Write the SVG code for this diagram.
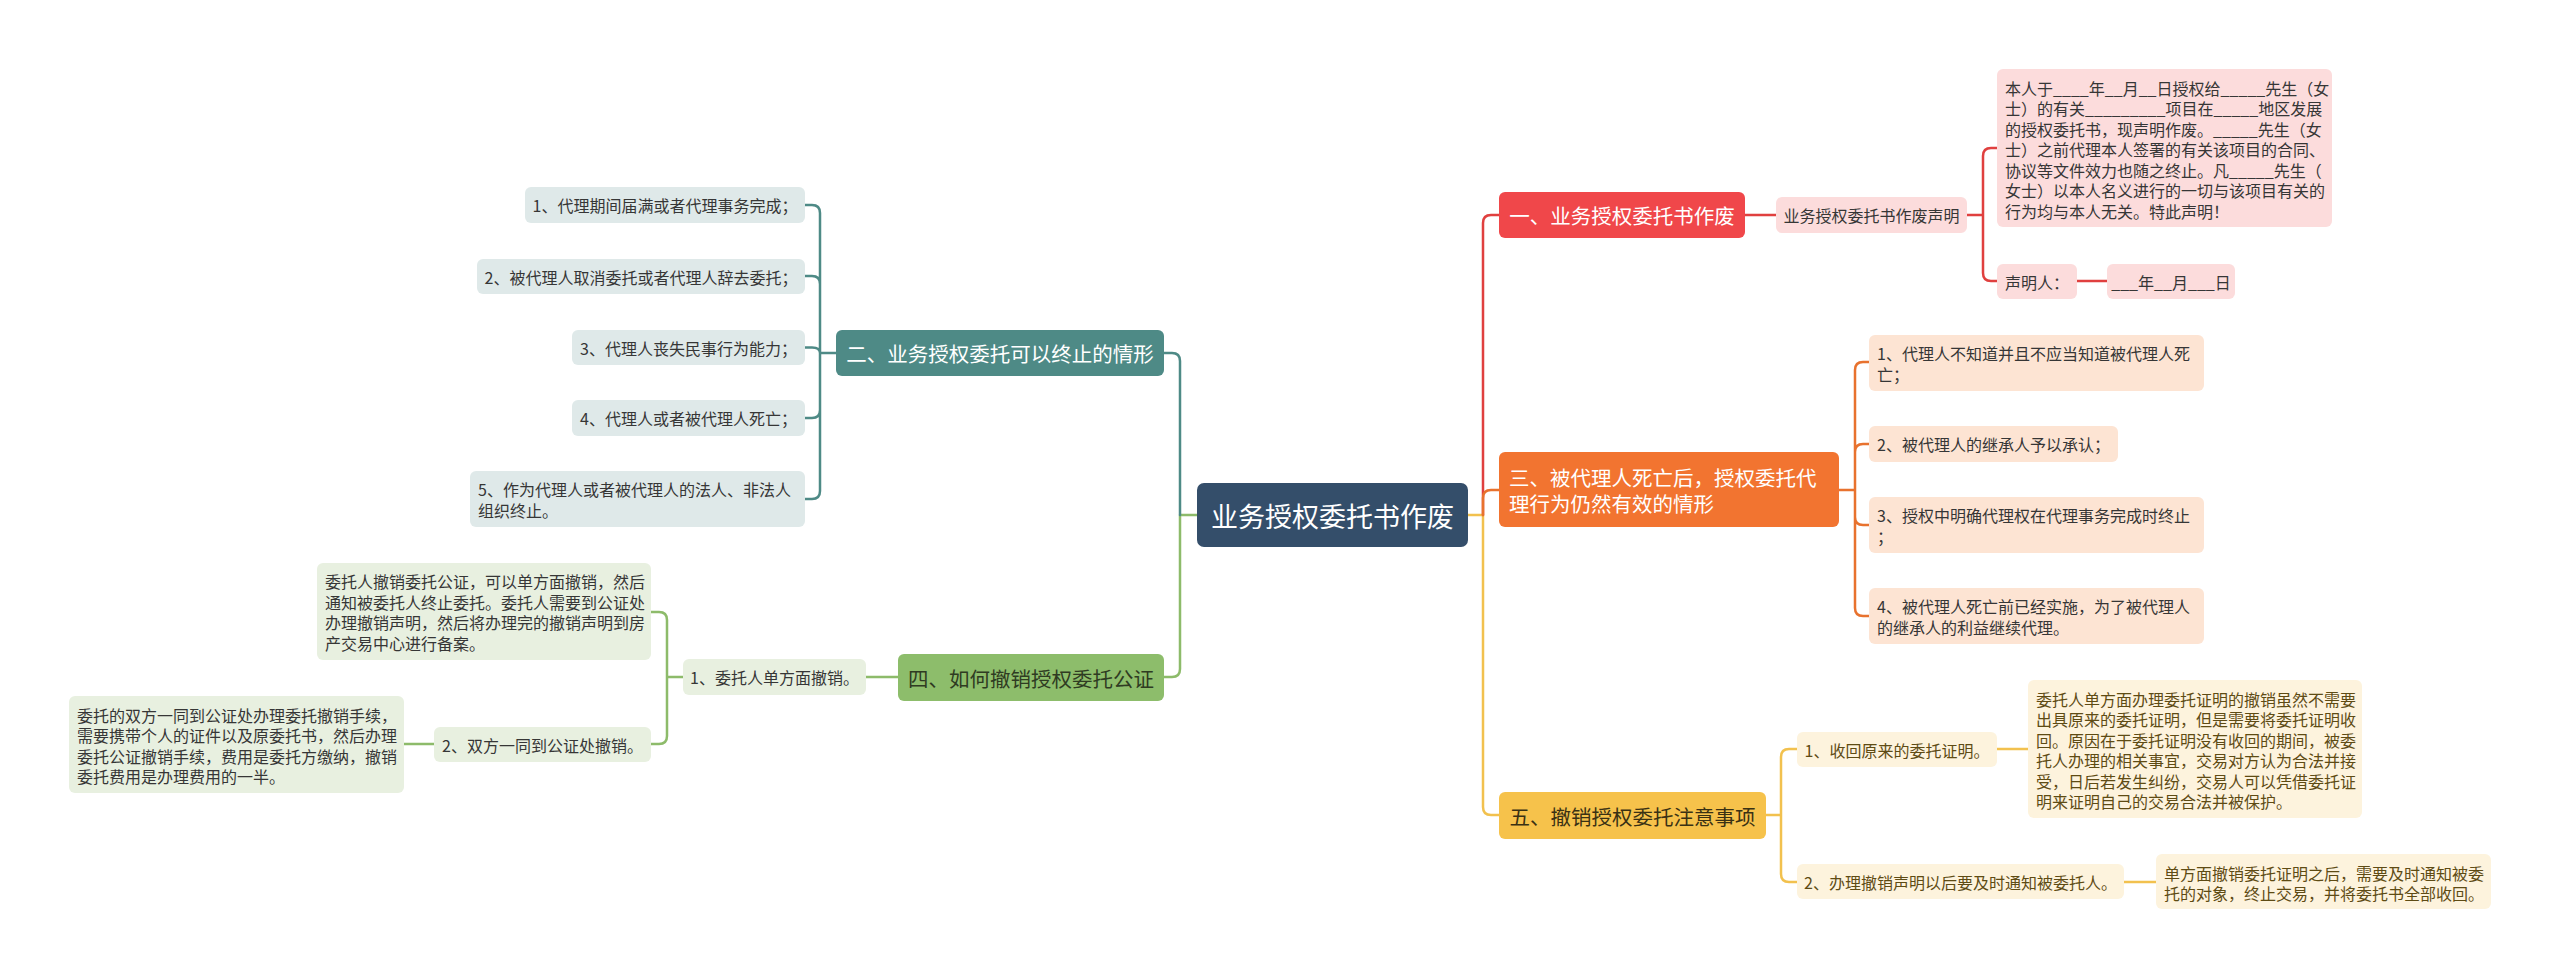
<svg xmlns="http://www.w3.org/2000/svg" width="2560" height="979" viewBox="0 0 2560 979">
<style>
text{font-family:"Noto Sans CJK SC","Noto Sans",sans-serif;}
.c{text-anchor:middle;dominant-baseline:central;}
.l{text-anchor:start;dominant-baseline:central;}
.f16{font-size:16px;fill:#363636;}
.fb{font-size:20.5px;}
.conn path{fill:none;stroke-linecap:round;stroke-linejoin:round;}
.teal{stroke:#4e8a86;stroke-width:2.5;}
.green{stroke:#8dbb6a;stroke-width:2.5;}
.red{stroke:#e0403f;stroke-width:2.5;}
.orange{stroke:#e8722e;stroke-width:2.5;}
.yellow{stroke:#f2c14e;stroke-width:2.5;}
.ty{fill:#5e4b14;}
</style>
<rect width="2560" height="979" fill="#ffffff"/>
<g id="connectors" class="conn">
  <path class="green" d="M1197,515 H1180 V669 Q1180,677 1172,677 H1164"/>
  <path class="teal" d="M1180,515 V361 Q1180,353 1172,353 H1164"/>
  <path class="teal" d="M836,353 H820 M820,353 V213 Q820,205 812,205 H805 M820,353 V284 Q820,276 812,276 H805 M820,353 Q820,347.5 812,347.5 H805 M820,353 V410 Q820,418 812,418 H805 M820,353 V491 Q820,499 812,499 H805"/>
  <path class="green" d="M898,677 H866 M683,677 H667 M667,677 V620 Q667,612 659,612 H651 M667,677 V736 Q667,744 659,744 H651 M434,744 H404"/>
  <path class="yellow" d="M1468,515 H1483 V807 Q1483,815 1491,815 H1499"/>
  <path class="red" d="M1483,515 V223 Q1483,215 1491,215 H1499"/>
  <path class="orange" d="M1483,515 V498 Q1483,490 1491,490 H1499"/>
  <path class="red" d="M1745,215 H1776 M1967,215 H1983 M1983,215 V156 Q1983,148 1991,148 H1997 M1983,215 V273 Q1983,281 1991,281 H1997 M2077,281 H2107"/>
  <path class="orange" d="M1839,490 H1855 M1855,490 V370 Q1855,362 1863,362 H1869 M1855,490 V452 Q1855,444 1863,444 H1869 M1855,490 V517 Q1855,525 1863,525 H1869 M1855,490 V608 Q1855,616 1863,616 H1869"/>
  <path class="yellow" d="M1766,815 H1781 M1781,815 V757 Q1781,749 1789,749 H1797 M1781,815 V874 Q1781,882 1789,882 H1797 M1997,749 H2028 M2124,882 H2156"/>
</g>
<g id="center">
  <rect x="1197" y="483" width="271" height="64" rx="7" fill="#344e6a"/>
  <text class="c" x="1332.5" y="515" font-size="27" fill="#ffffff">业务授权委托书作废</text>
</g>
<g id="b2">
  <rect x="836" y="330" width="328" height="46" rx="6" fill="#4e8a86"/>
  <text class="c fb" x="1000" y="353" fill="#ffffff">二、业务授权委托可以终止的情形</text>
</g>
<g id="b2-1"><rect x="525" y="187" width="280" height="36" rx="6" fill="#dfe9e9"/><text class="c f16" x="665" y="205">1、代理期间届满或者代理事务完成；</text></g>
<g id="b2-2"><rect x="477" y="259" width="328" height="35" rx="6" fill="#dfe9e9"/><text class="c f16" x="641" y="276.5">2、被代理人取消委托或者代理人辞去委托；</text></g>
<g id="b2-3"><rect x="572" y="330" width="233" height="35" rx="6" fill="#dfe9e9"/><text class="c f16" x="688.5" y="347.5">3、代理人丧失民事行为能力；</text></g>
<g id="b2-4"><rect x="572" y="400" width="233" height="36" rx="6" fill="#dfe9e9"/><text class="c f16" x="688.5" y="418">4、代理人或者被代理人死亡；</text></g>
<g id="b2-5"><rect x="470" y="471" width="335" height="56" rx="6" fill="#dfe9e9"/>
  <text class="l f16" x="478" y="489">5、作为代理人或者被代理人的法人、非法人</text>
  <text class="l f16" x="478" y="509.5">组织终止。</text></g>
<g id="b4">
  <rect x="898" y="654" width="266" height="47" rx="6" fill="#8dbd6b"/>
  <text class="c fb" x="1031" y="677.5" fill="#2f3b22">四、如何撤销授权委托公证</text>
</g>
<g id="b4-1"><rect x="683" y="659" width="183" height="36" rx="6" fill="#e8f0e0"/><text class="c f16" x="774.5" y="677">1、委托人单方面撤销。</text></g>
<g id="b4-1-1"><rect x="317" y="563" width="334" height="97" rx="6" fill="#e8f0e0"/>
  <text class="l f16" x="325" y="581">委托人撤销委托公证，可以单方面撤销，然后</text>
  <text class="l f16" x="325" y="601.5">通知被委托人终止委托。委托人需要到公证处</text>
  <text class="l f16" x="325" y="622">办理撤销声明，然后将办理完的撤销声明到房</text>
  <text class="l f16" x="325" y="642.5">产交易中心进行备案。</text></g>
<g id="b4-2"><rect x="434" y="727" width="217" height="35" rx="6" fill="#e8f0e0"/><text class="c f16" x="542.5" y="744.5">2、双方一同到公证处撤销。</text></g>
<g id="b4-2-1"><rect x="69" y="696" width="335" height="97" rx="6" fill="#e8f0e0"/>
  <text class="l f16" x="77" y="714.5">委托的双方一同到公证处办理委托撤销手续，</text>
  <text class="l f16" x="77" y="735">需要携带个人的证件以及原委托书，然后办理</text>
  <text class="l f16" x="77" y="755.5">委托公证撤销手续，费用是委托方缴纳，撤销</text>
  <text class="l f16" x="77" y="776">委托费用是办理费用的一半。</text></g>
<g id="b1">
  <rect x="1499" y="192" width="246" height="46" rx="6" fill="#f0474a"/>
  <text class="c fb" x="1622" y="215" fill="#ffffff">一、业务授权委托书作废</text>
</g>
<g id="b1-1"><rect x="1776" y="197" width="191" height="36" rx="6" fill="#fcdcdc"/><text class="c f16" x="1871.5" y="215">业务授权委托书作废声明</text></g>
<g id="b1-1-1"><rect x="1997" y="69" width="335" height="158" rx="6" fill="#fcdcdc"/>
  <text class="l f16" x="2005" y="87.5">本人于____年__月__日授权给_____先生（女</text>
  <text class="l f16" x="2005" y="108">士）的有关_________项目在_____地区发展</text>
  <text class="l f16" x="2005" y="128.5">的授权委托书，现声明作废。_____先生（女</text>
  <text class="l f16" x="2005" y="149">士）之前代理本人签署的有关该项目的合同、</text>
  <text class="l f16" x="2005" y="169.5">协议等文件效力也随之终止。凡_____先生（</text>
  <text class="l f16" x="2005" y="190">女士）以本人名义进行的一切与该项目有关的</text>
  <text class="l f16" x="2005" y="210.5">行为均与本人无关。特此声明！</text></g>
<g id="b1-1-2"><rect x="1997" y="264" width="80" height="35" rx="6" fill="#fcdcdc"/><text class="c f16" x="2037" y="281.5">声明人：</text></g>
<g id="b1-1-2-1"><rect x="2107" y="264" width="128" height="35" rx="6" fill="#fcdcdc"/><text class="c f16" x="2171" y="281.5">___年__月___日</text></g>
<g id="b3">
  <rect x="1499" y="452" width="340" height="75" rx="6" fill="#f27430"/>
  <text class="l fb" x="1509" y="477" fill="#ffffff">三、被代理人死亡后，授权委托代</text>
  <text class="l fb" x="1509" y="503" fill="#ffffff">理行为仍然有效的情形</text>
</g>
<g id="b3-1"><rect x="1869" y="335" width="335" height="56" rx="6" fill="#fde4d3"/>
  <text class="l f16" x="1877" y="353">1、代理人不知道并且不应当知道被代理人死</text>
  <text class="l f16" x="1877" y="373.5">亡；</text></g>
<g id="b3-2"><rect x="1869" y="426" width="249" height="36" rx="6" fill="#fde4d3"/><text class="c f16" x="1993.5" y="444">2、被代理人的继承人予以承认；</text></g>
<g id="b3-3"><rect x="1869" y="497" width="335" height="56" rx="6" fill="#fde4d3"/>
  <text class="l f16" x="1877" y="515">3、授权中明确代理权在代理事务完成时终止</text>
  <text class="l f16" x="1877" y="535.5">；</text></g>
<g id="b3-4"><rect x="1869" y="588" width="335" height="56" rx="6" fill="#fde4d3"/>
  <text class="l f16" x="1877" y="606">4、被代理人死亡前已经实施，为了被代理人</text>
  <text class="l f16" x="1877" y="626.5">的继承人的利益继续代理。</text></g>
<g id="b5">
  <rect x="1499" y="792" width="267" height="47" rx="6" fill="#f6c24b"/>
  <text class="c fb" x="1632.5" y="815.5" fill="#3a3114">五、撤销授权委托注意事项</text>
</g>
<g id="b5-1"><rect x="1797" y="732" width="200" height="35" rx="6" fill="#fdf3dd"/><text class="c f16 ty" x="1897" y="749.5">1、收回原来的委托证明。</text></g>
<g id="b5-1-1"><rect x="2028" y="680" width="334" height="138" rx="6" fill="#fdf3dd"/>
  <text class="l f16 ty" x="2036" y="698.5">委托人单方面办理委托证明的撤销虽然不需要</text>
  <text class="l f16 ty" x="2036" y="719">出具原来的委托证明，但是需要将委托证明收</text>
  <text class="l f16 ty" x="2036" y="739.5">回。原因在于委托证明没有收回的期间，被委</text>
  <text class="l f16 ty" x="2036" y="760">托人办理的相关事宜，交易对方认为合法并接</text>
  <text class="l f16 ty" x="2036" y="780.5">受，日后若发生纠纷，交易人可以凭借委托证</text>
  <text class="l f16 ty" x="2036" y="801">明来证明自己的交易合法并被保护。</text></g>
<g id="b5-2"><rect x="1797" y="864" width="327" height="35" rx="6" fill="#fdf3dd"/><text class="c f16 ty" x="1960.5" y="881.5">2、办理撤销声明以后要及时通知被委托人。</text></g>
<g id="b5-2-1"><rect x="2156" y="854" width="335" height="55" rx="6" fill="#fdf3dd"/>
  <text class="l f16 ty" x="2164" y="872.5">单方面撤销委托证明之后，需要及时通知被委</text>
  <text class="l f16 ty" x="2164" y="893">托的对象，终止交易，并将委托书全部收回。</text></g>
</svg>
